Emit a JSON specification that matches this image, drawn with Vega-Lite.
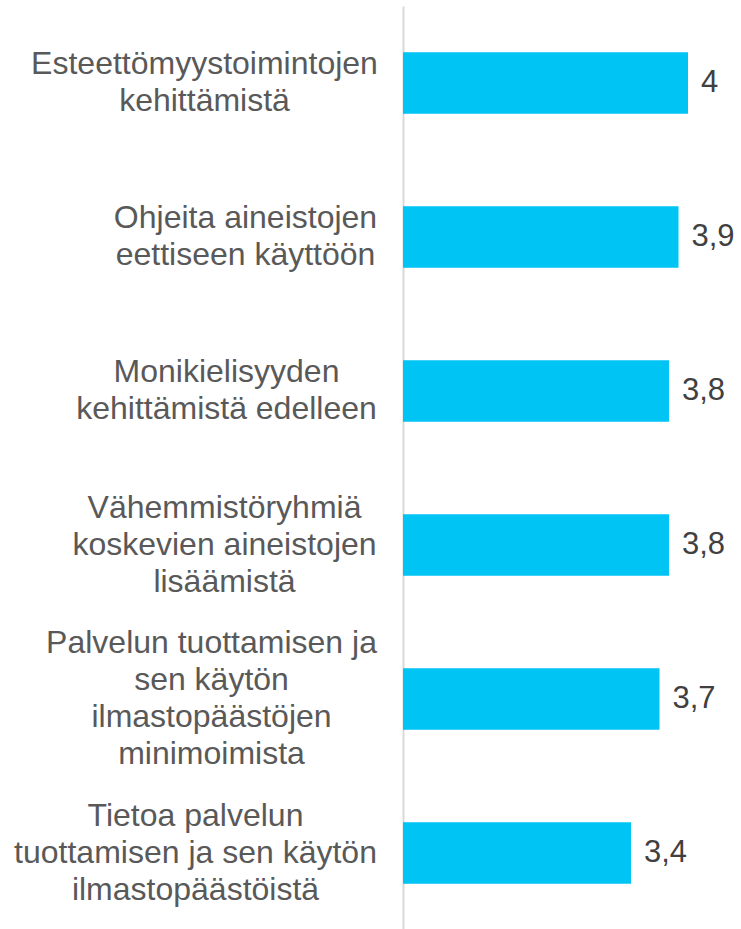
{
  "$schema": "https://vega.github.io/schema/vega-lite/v6.json",
  "autosize": {"type": "none"},
  "padding": {"left": 403, "top": 6, "right": 15, "bottom": 0},
  "width": 323,
  "height": 924,
  "background": "white",
  "config": {
    "view": {"stroke": null},
    "font": "Liberation Sans",
    "locale": {"number": {"decimal": ",", "thousands": " ", "grouping": [3], "currency": ["", " €"]}}
  },
  "data": {
    "values": [
      {"kohde": "Esteettömyystoimintojen|kehittämistä", "arvo": 4.0},
      {"kohde": "Ohjeita aineistojen|eettiseen käyttöön", "arvo": 3.9},
      {"kohde": "Monikielisyyden|kehittämistä edelleen", "arvo": 3.8},
      {"kohde": "Vähemmistöryhmiä|koskevien aineistojen|lisäämistä", "arvo": 3.8},
      {"kohde": "Palvelun tuottamisen ja|sen käytön|ilmastopäästöjen|minimoimista", "arvo": 3.7},
      {"kohde": "Tietoa palvelun|tuottamisen ja sen käytön|ilmastopäästöistä", "arvo": 3.4}
    ]
  },
  "encoding": {
    "y": {
      "field": "kohde",
      "type": "nominal",
      "sort": null,
      "scale": {"paddingInner": 0.6, "paddingOuter": 0.3},
      "axis": {
        "title": null,
        "ticks": false,
        "domain": true,
        "domainColor": "#d9d9d9",
        "domainWidth": 2,
        "labelExpr": "split(datum.label, '|')",
        "labelAlign": "center",
        "labelBaseline": "middle",
        "labelPadding": {
          "condition": [
            {"test": "datum.value == 'Ohjeita aineistojen|eettiseen käyttöön'", "value": 158},
            {"test": "datum.value == 'Monikielisyyden|kehittämistä edelleen'", "value": 177},
            {"test": "datum.value == 'Vähemmistöryhmiä|koskevien aineistojen|lisäämistä'", "value": 179},
            {"test": "datum.value == 'Palvelun tuottamisen ja|sen käytön|ilmastopäästöjen|minimoimista'", "value": 192},
            {"test": "datum.value == 'Tietoa palvelun|tuottamisen ja sen käytön|ilmastopäästöistä'", "value": 208}
          ],
          "value": 199
        },
        "labelFontSize": 32,
        "labelLineHeight": 37,
        "labelColor": "#595959",
        "labelLimit": 0,
        "labelOverlap": false,
        "labelOffset": {
          "condition": [
            {"test": "length(split(datum.label, '|')) == 2", "value": -19},
            {"test": "length(split(datum.label, '|')) == 3", "value": -37},
            {"test": "length(split(datum.label, '|')) == 4", "value": -56}
          ],
          "value": 0
        }
      }
    },
    "x": {
      "field": "arvo",
      "type": "quantitative",
      "scale": {"domain": [1, 4.4], "zero": false, "nice": false},
      "axis": null
    }
  },
  "layer": [
    {"mark": {"type": "bar", "color": "#00C4F4", "clip": true}},
    {
      "mark": {"type": "text", "align": "left", "baseline": "middle", "dx": 13, "fontSize": 31, "color": "#404040"},
      "encoding": {"text": {"field": "arvo", "type": "quantitative", "format": ".1~f"}}
    }
  ]
}
